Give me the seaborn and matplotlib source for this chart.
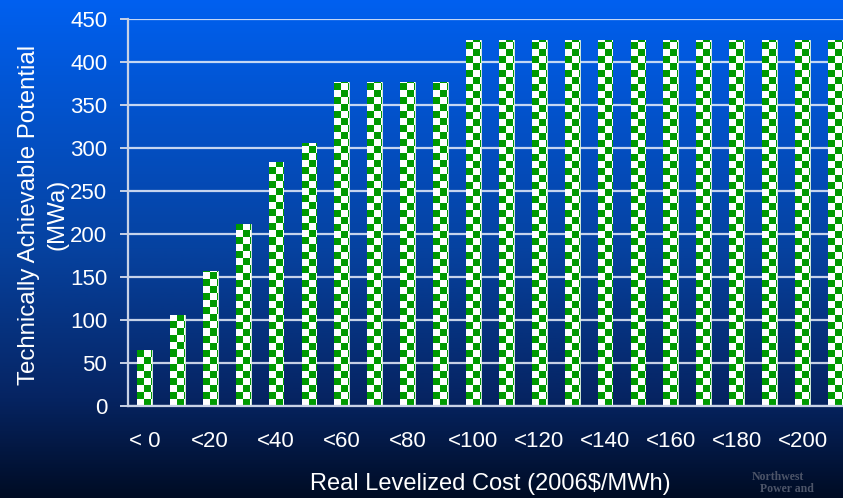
import numpy as np
import pandas as pd
import matplotlib
matplotlib.use("Agg")
import matplotlib.pyplot as plt
from matplotlib.colors import ListedColormap, LinearSegmentedColormap
import seaborn as sns

categories = ["< 0", "<10", "<20", "<30", "<40", "<50", "<60", "<70", "<80", "<90", "<100",
              "<110", "<120", "<130", "<140", "<150", "<160", "<170", "<180", "<190", "<200", "<210"]
values = [65, 106, 157, 212, 284, 306, 377, 377, 377, 377, 425,
          425, 425, 425, 425, 425, 425, 425, 425, 425, 425, 425]
y_ticks = [0, 50, 100, 150, 200, 250, 300, 350, 400, 450]

sns.set_theme(style="white")
plt.rcParams['font.family'] = ['Liberation Sans', 'DejaVu Sans']

W, H, DPI = 843, 498, 100
fig = plt.figure(figsize=(W / DPI, H / DPI), dpi=DPI)

# background gradient
bg = fig.add_axes([0, 0, 1, 1], zorder=-10)
bg_cmap = LinearSegmentedColormap.from_list(
    "bg", [(0.0, (0/255, 96/255, 240/255)), (0.5, (6/255, 66/255, 160/255)),
           (0.8, (6/255, 36/255, 98/255)), (1.0, (0/255, 12/255, 36/255))])
grad = np.linspace(0, 1, 256).reshape(-1, 1)
bg.imshow(grad, aspect="auto", cmap=bg_cmap, extent=(0, 1, 0, 1), origin="upper")
bg.set_axis_off()

ax_left, ax_bottom = 128 / W, 1 - 406 / H
ax_w, ax_h = 22 * 32.9 / W, 387 / H
ax = fig.add_axes([ax_left, ax_bottom, ax_w, ax_h])
ax.set_facecolor("none")

df = pd.DataFrame({"cat": categories, "val": values})
sns.barplot(data=df, x="cat", y="val", ax=ax, width=0.45, color="white",
            saturation=1, edgecolor="#d8f0d8", linewidth=0.6, zorder=3)

ax.set_xlim(-0.5, len(categories) - 0.5)
ax.set_ylim(0, 450)

# checker fill clipped to each bar
px_x = ax_w * W / len(categories)
px_y = ax_h * H / 450
cell = 7.0
cx, cy = cell / px_x, cell / px_y
chk_cmap = ListedColormap(["white", "#009a00"])
for bar in ax.patches:
    x0, w, h = bar.get_x(), bar.get_width(), bar.get_height()
    ncol = int(np.ceil(w / cx)) + 1
    nrow = int(np.ceil(h / cy)) + 1
    ii, jj = np.indices((nrow, ncol))
    arr = ((ii + jj) % 2).astype(float)
    im = ax.imshow(arr, cmap=chk_cmap, vmin=0, vmax=1, interpolation="nearest",
                   extent=(x0, x0 + ncol * cx, 0, nrow * cy), origin="lower",
                   aspect="auto", zorder=3.5)
    im.set_clip_path(bar)
ax.set_xlim(-0.5, len(categories) - 0.5)
ax.set_ylim(0, 450)

# grid
ax.set_yticks(y_ticks)
ax.yaxis.grid(True, color="#e8eefa", linewidth=1.6, alpha=0.85, zorder=1)
ax.xaxis.grid(False)
ax.set_axisbelow(True)

for s in ["top", "right"]:
    ax.spines[s].set_visible(False)
for s in ["left", "bottom"]:
    ax.spines[s].set_color("#c8d2e6")
    ax.spines[s].set_linewidth(1.6)
    ax.spines[s].set_zorder(5)

ax.set_xticks(range(len(categories)))
ax.set_xticklabels([c if i % 2 == 0 else "" for i, c in enumerate(categories)])
ax.set_xticks(np.arange(-0.5, len(categories), 1), minor=True)
ax.tick_params(axis="x", which="major", length=0, pad=18, labelsize=16, labelcolor="white")
ax.tick_params(axis="x", which="minor", length=6, width=1.4, color="#c8d2e6", direction="out")
ax.tick_params(axis="y", which="major", length=6, width=1.4, color="#c8d2e6", pad=9,
               labelsize=16, labelcolor="white", left=True)

ax.set_xlabel("Real Levelized Cost (2006$/MWh)", fontsize=17, color="white")
ax.xaxis.set_label_coords(0.501, -0.172)
ax.set_ylabel("Technically Achievable Potential\n(MWa)", fontsize=17.3, color="white",
              multialignment="center", linespacing=1.4)
ax.yaxis.set_label_coords(-0.082, 0.494)

# logo text
fig.text(752 / W, 1 - 477 / H, "Northwest", fontsize=8.5, family="Liberation Serif",
         weight="bold", color="#4c5468", va="center", ha="left")
fig.text(760 / W, 1 - 489 / H, "Power and", fontsize=8.5, family="Liberation Serif",
         weight="bold", color="#4c5468", va="center", ha="left")

fig.savefig("out.png", dpi=DPI)
